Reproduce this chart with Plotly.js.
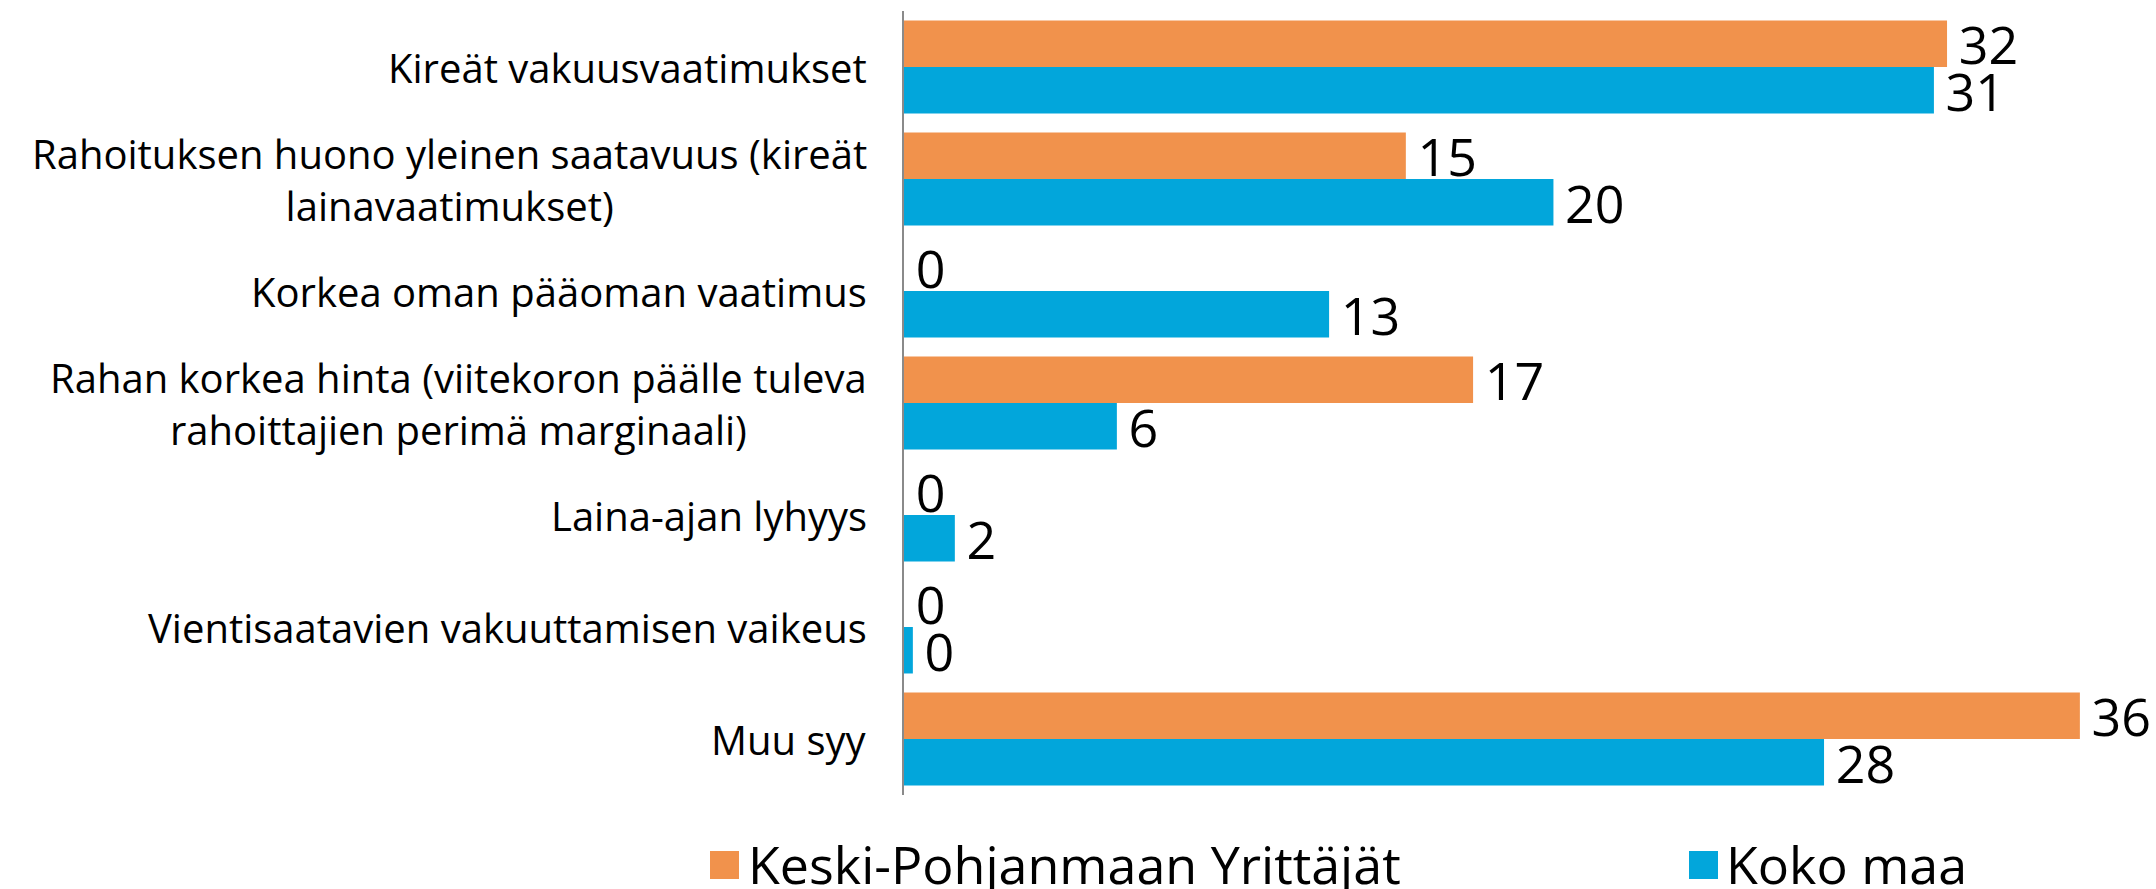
<!DOCTYPE html>
<html>
<head>
<meta charset="utf-8">
<script src="https://cdn.plot.ly/plotly-3.0.1.min.js"></script>
<style>
  html, body { margin: 0; padding: 0; background: #ffffff; }
  #chart { width: 2156px; height: 889px; }
</style>
</head>
<body>
<div id="chart"></div>
<script>
// ---- data ----
const categories = [
  "Kireät vakuusvaatimukset",
  "Rahoituksen huono yleinen saatavuus (kireät<br>lainavaatimukset)",
  "Korkea oman pääoman vaatimus",
  "Rahan korkea hinta (viitekoron päälle tuleva<br>rahoittajien perimä marginaali)",
  "Laina-ajan lyhyys",
  "Vientisaatavien vakuuttamisen vaikeus",
  "Muu syy"
];
const seriesNames = ["Keski-Pohjanmaan Yrittäjät", "Koko maa"];
const keskiPohjanmaa = [31.8, 15.3, 0, 17.35, 0, 0, 35.85];
const kokoMaa = [31.4, 19.8, 12.96, 6.49, 1.55, 0.27, 28.05];
const colors = ["#F1924C", "#02A6DB"];

// ---- layout helpers ----
const W = 2156, H = 889;
const M = { l: 904, r: 40, t: 11, b: 94 };
const pw = W - M.l - M.r, ph = H - M.t - M.b;
const px2x = p => (p - M.l) / pw;
const px2y = p => (H - M.b - p) / ph;
const FONT = "Open Sans, Noto Sans, DejaVu Sans, sans-serif";

const seriesValues = [keskiPohjanmaa, kokoMaa];
const traces = seriesValues.map((vals, i) => ({
  type: "bar",
  orientation: "h",
  name: seriesNames[i],
  y: categories,
  x: vals,
  text: vals.map(v => "\u2009" + String(Math.round(v))),
  textposition: "outside",
  cliponaxis: false,
  constraintext: "none",
  textfont: { family: FONT, size: 52, color: "#000000" },
  marker: { color: colors[i], line: { width: 0 } },
  hoverinfo: "none",
  showlegend: false
}));

const annotations = categories.map(c => ({
  text: c,
  xref: "paper", yref: "y",
  x: px2x(869), y: c,
  xanchor: "right", yanchor: "middle",
  align: "center",
  showarrow: false,
  font: { family: FONT, size: 40, color: "#000000" }
}));

// legend (custom, to get large swatches)
const legendItems = [
  { sq: 710, tx: 746 },
  { sq: 1689, tx: 1724 }
];
const shapes = [];
legendItems.forEach((it, i) => {
  shapes.push({
    type: "rect", xref: "paper", yref: "paper",
    x0: px2x(it.sq), x1: px2x(it.sq + 29),
    y0: px2y(879), y1: px2y(851),
    fillcolor: colors[i], line: { width: 0 }
  });
  annotations.push({
    text: seriesNames[i],
    xref: "paper", yref: "paper",
    x: px2x(it.tx), y: px2y(863),
    xanchor: "left", yanchor: "middle",
    showarrow: false,
    font: { family: FONT, size: 52, color: "#000000" }
  });
});

const layout = {
  width: W, height: H,
  margin: M,
  paper_bgcolor: "#ffffff",
  plot_bgcolor: "#ffffff",
  barmode: "group",
  bargap: 0.17,
  bargroupgap: 0,
  showlegend: false,
  xaxis: {
    range: [0, pw / 32.8],
    visible: false,
    fixedrange: true
  },
  yaxis: {
    type: "category",
    autorange: "reversed",
    showticklabels: false,
    ticks: "",
    showgrid: false,
    zeroline: false,
    showline: true,
    linecolor: "#8a8a8a",
    linewidth: 2,
    fixedrange: true
  },
  annotations: annotations,
  shapes: shapes
};

Plotly.newPlot("chart", traces, layout, { displayModeBar: false, staticPlot: true });
</script>
</body>
</html>
